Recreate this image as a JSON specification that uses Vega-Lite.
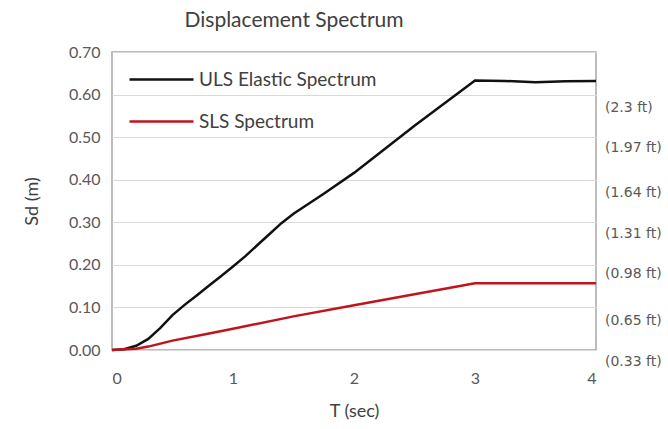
{
  "$schema": "https://vega.github.io/schema/vega-lite/v6.json",
  "width": 484,
  "height": 298,
  "autosize": {"type": "none"},
  "padding": {"left": 112, "top": 52, "right": 72, "bottom": 79},
  "background": "#ffffff",
  "title": {"text": "Displacement Spectrum", "fontSize": 21, "fontWeight": "normal", "font": "Lato", "color": "#404040", "anchor": "middle", "dx": -60, "offset": 13},
  "config": {
    "view": {"stroke": "#a6a6a6", "strokeWidth": 1.5},
    "axis": {"labelFont": "Lato", "labelFontSize": 16, "labelColor": "#595959", "titleFont": "Lato", "titleFontSize": 18, "titleFontWeight": "normal", "titleColor": "#404040", "ticks": false, "domain": false},
    "legend": {"labelFont": "Lato", "labelFontSize": 19, "labelColor": "#404040", "labelLimit": 0}
  },
  "layer": [
    {
      "data": {"values": [
        {"T": 0, "Sd": 0, "series": "ULS Elastic Spectrum"},
        {"T": 0.1, "Sd": 0.002, "series": "ULS Elastic Spectrum"},
        {"T": 0.2, "Sd": 0.01, "series": "ULS Elastic Spectrum"},
        {"T": 0.3, "Sd": 0.026, "series": "ULS Elastic Spectrum"},
        {"T": 0.4, "Sd": 0.052, "series": "ULS Elastic Spectrum"},
        {"T": 0.5, "Sd": 0.082, "series": "ULS Elastic Spectrum"},
        {"T": 0.6, "Sd": 0.106, "series": "ULS Elastic Spectrum"},
        {"T": 0.7, "Sd": 0.128, "series": "ULS Elastic Spectrum"},
        {"T": 0.8, "Sd": 0.151, "series": "ULS Elastic Spectrum"},
        {"T": 0.9, "Sd": 0.173, "series": "ULS Elastic Spectrum"},
        {"T": 1.0, "Sd": 0.196, "series": "ULS Elastic Spectrum"},
        {"T": 1.1, "Sd": 0.22, "series": "ULS Elastic Spectrum"},
        {"T": 1.2, "Sd": 0.246, "series": "ULS Elastic Spectrum"},
        {"T": 1.3, "Sd": 0.272, "series": "ULS Elastic Spectrum"},
        {"T": 1.4, "Sd": 0.298, "series": "ULS Elastic Spectrum"},
        {"T": 1.5, "Sd": 0.32, "series": "ULS Elastic Spectrum"},
        {"T": 1.75, "Sd": 0.367, "series": "ULS Elastic Spectrum"},
        {"T": 2.0, "Sd": 0.416, "series": "ULS Elastic Spectrum"},
        {"T": 2.5, "Sd": 0.527, "series": "ULS Elastic Spectrum"},
        {"T": 3.0, "Sd": 0.633, "series": "ULS Elastic Spectrum"},
        {"T": 3.25, "Sd": 0.632, "series": "ULS Elastic Spectrum"},
        {"T": 3.5, "Sd": 0.629, "series": "ULS Elastic Spectrum"},
        {"T": 3.75, "Sd": 0.631, "series": "ULS Elastic Spectrum"},
        {"T": 4.0, "Sd": 0.632, "series": "ULS Elastic Spectrum"},
        {"T": 0, "Sd": 0, "series": "SLS Spectrum"},
        {"T": 0.2, "Sd": 0.003, "series": "SLS Spectrum"},
        {"T": 0.3, "Sd": 0.008, "series": "SLS Spectrum"},
        {"T": 0.5, "Sd": 0.022, "series": "SLS Spectrum"},
        {"T": 0.75, "Sd": 0.036, "series": "SLS Spectrum"},
        {"T": 1.0, "Sd": 0.05, "series": "SLS Spectrum"},
        {"T": 1.5, "Sd": 0.079, "series": "SLS Spectrum"},
        {"T": 2.0, "Sd": 0.105, "series": "SLS Spectrum"},
        {"T": 2.5, "Sd": 0.131, "series": "SLS Spectrum"},
        {"T": 3.0, "Sd": 0.157, "series": "SLS Spectrum"},
        {"T": 3.5, "Sd": 0.157, "series": "SLS Spectrum"},
        {"T": 4.0, "Sd": 0.157, "series": "SLS Spectrum"}
      ]},
      "mark": {"type": "line", "strokeWidth": 2.5, "interpolate": "linear"},
      "encoding": {
        "x": {"field": "T", "type": "quantitative", "scale": {"domain": [0, 4], "nice": false}, "axis": {"values": [0, 1, 2, 3, 4], "grid": false, "title": "T (sec)", "labelPadding": 20, "titlePadding": 16, "format": "d"}},
        "y": {"field": "Sd", "type": "quantitative", "scale": {"domain": [0, 0.7], "nice": false}, "axis": {"values": [0, 0.1, 0.2, 0.3, 0.4, 0.5, 0.6, 0.7], "format": ".2f", "grid": true, "gridColor": "#d9d9d9", "gridWidth": 1.2, "title": "Sd (m)", "labelPadding": 12, "titlePadding": 27}},
        "color": {"field": "series", "type": "nominal", "scale": {"domain": ["ULS Elastic Spectrum", "SLS Spectrum"], "range": ["#111111", "#c0141c"]}, "legend": {"title": null, "orient": "none", "legendX": 60, "legendY": 16, "padding": 0, "symbolType": "M-5.4,0H1", "symbolSize": 400, "symbolStrokeWidth": 2.5, "labelOffset": 4, "rowPadding": 20}}
      }
    },
    {
      "data": {"values": [
        {"pos": 0.5696, "label": "(2.3 ft)"},
        {"pos": 0.4752, "label": "(1.97 ft)"},
        {"pos": 0.3691, "label": "(1.64 ft)"},
        {"pos": 0.2724, "label": "(1.31 ft)"},
        {"pos": 0.1774, "label": "(0.98 ft)"},
        {"pos": 0.0689, "label": "(0.65 ft)"},
        {"pos": -0.0271, "label": "(0.33 ft)"}
      ]},
      "mark": {"type": "text", "align": "left", "baseline": "middle", "dx": 9, "font": "DejaVu Sans", "fontSize": 14, "color": "#595959"},
      "encoding": {
        "x": {"datum": 4, "type": "quantitative"},
        "y": {"field": "pos", "type": "quantitative"},
        "text": {"field": "label", "type": "nominal"}
      }
    }
  ]
}
